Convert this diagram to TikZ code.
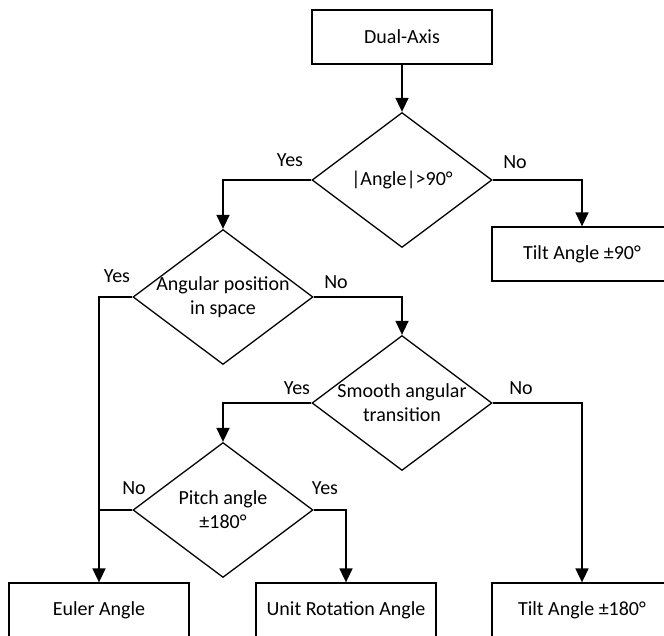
\documentclass[tikz,border=0pt]{standalone}
\usepackage{fontspec}
\setmainfont{Carlito}
\usetikzlibrary{shapes.geometric, arrows.meta}

\begin{document}
\begin{tikzpicture}[x=1pt, y=-1pt, font=\fontsize{20}{24}\selectfont, process/.style={rectangle, draw=black, line width=1.3pt, minimum width=180pt, minimum height=54pt}, decision/.style={diamond, draw=black, line width=1.3pt, minimum width=180pt, minimum height=135pt, inner sep=-20pt, align=center}, answer/.style={inner sep=0pt}, flow/.style={line width=1.6pt, -{Triangle[width=13pt,length=14pt]}}, merge/.style={line width=1.6pt}]

    \useasboundingbox (0,0) rectangle (664,635);

    % Nodes
    \node[process]  (dual)   at (402,37)  {Dual-Axis};
    \node[decision] (absang) at (402,180) {|Angle|>90°};
    \node[process]  (tilt90) at (582,254) {Tilt Angle ±90°};
    \node[decision] (space)  at (223,297) {Angular position\\in space};
    \node[decision] (smooth) at (402,403) {Smooth angular\\transition};
    \node[decision] (pitch)  at (223,510) {Pitch angle\\±180°};
    \node[process]  (euler)  at (99,610)  {Euler Angle};
    \node[process]  (unit)   at (346,610) {Unit Rotation Angle};
    \node[process]  (tilt180) at (582,610) {Tilt Angle ±180°};

    % Answers
    \node[answer] (absyes)    at (290,160) {Yes};
    \node[answer] (absno)     at (515,162) {No};
    \node[answer] (spaceyes)  at (117,276) {Yes};
    \node[answer] (spaceno)   at (336,282) {No};
    \node[answer] (smoothyes) at (297,388) {Yes};
    \node[answer] (smoothno)  at (521,388) {No};
    \node[answer] (pitchno)   at (134,488) {No};
    \node[answer] (pitchyes)  at (325,488) {Yes};

    % Lines ---------------
    \draw[flow] (dual.south) -- (absang.north);
    \draw[flow] (absang.west) -| (space.north);
    \draw[flow] (absang.east) -| (tilt90.north);
    \draw[flow] (space.west) -| (euler.north);
    \draw[flow] (space.east) -| (smooth.north);
    \draw[flow] (smooth.west) -| (pitch.north);
    \draw[flow] (smooth.east) -| (tilt180.north);
    \draw[flow] (pitch.east) -| (unit.north);
    \draw[merge] (pitch.west) -- (pitch.west -| euler.north);

\end{tikzpicture}
\end{document}
